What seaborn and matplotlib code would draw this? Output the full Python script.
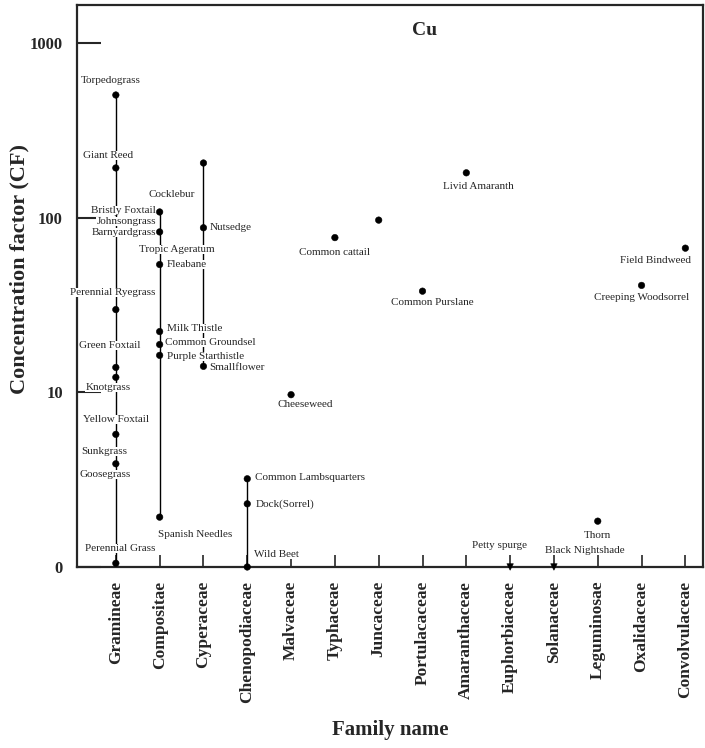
import numpy as np
import pandas as pd
import matplotlib
matplotlib.use("Agg")
import matplotlib.pyplot as plt
import seaborn as sns

families = ["Gramineae", "Compositae", "Cyperaceae", "Chenopodiaceae", "Malvaceae",
            "Typhaceae", "Juncaceae", "Portulacaceae", "Amaranthaceae", "Euphorbiaceae",
            "Solanaceae", "Leguminosae", "Oxalidaceae", "Convolvulaceae"]

species = ["Torpedograss", "Giant Reed", "Bristly Foxtail", "Johnsongrass", "Barnyardgrass",
           "Perennial Ryegrass", "Green Foxtail", "Knotgrass", "Yellow Foxtail", "Sunkgrass",
           "Goosegrass", "Perennial Grass",
           "Cocklebur", "Tropic Ageratum", "Fleabane", "Milk Thistle", "Common Groundsel",
           "Purple Starthistle", "Spanish Needles",
           "", "Nutsedge", "Smallflower",
           "Common Lambsquarters", "Dock(Sorrel)", "Wild Beet",
           "Cheeseweed", "Common cattail", "", "Common Purslane", "Livid Amaranth",
           "Petty spurge", "Black Nightshade", "Thorn", "Creeping Woodsorrel", "Field Bindweed"]

species_family = (["Gramineae"] * 12 + ["Compositae"] * 7 + ["Cyperaceae"] * 3
                  + ["Chenopodiaceae"] * 3
                  + ["Malvaceae", "Typhaceae", "Juncaceae", "Portulacaceae", "Amaranthaceae",
                     "Euphorbiaceae", "Solanaceae", "Leguminosae", "Oxalidaceae", "Convolvulaceae"])

cf = [505, 193, 108, 95, 83, 29.8, 13.9, 12.2, 5.75, 3.9, 3.4, 1.05,
      108, 83, 54, 22.3, 18.8, 16.3, 1.93,
      206, 87.7, 14.1,
      3.2, 2.3, 1.0,
      9.7, 77, 97, 38, 181,
      1.0, 1.0, 1.83, 41, 67]

# label offsets from each point, in pixels (dx, dy, alignment)
label_dx = [-5, -8, 40, 40, 40, -3, -6, -8, 0, -12, -11, 4,
            12, 17, 7, 7, 5, 7, 35,
            0, 6, 6,
            8, 8, 7,
            14, 0, 0, 10, 12,
            -11, 31, 0, 0, -30]
label_dy = [15, 12, 1, 0, -1, 17, 22, -10, 15, 12, 0, 15,
            17, -18, 0, 3, 2, -1, -17,
            0, 0, -1,
            1, 0, 12,
            -10, -15, 0, -11, -14,
            21, 16, -14, -12, -12]
label_ha = (["center"] * 2 + ["right"] * 3 + ["center"] * 7
            + ["center", "center", "left", "left", "left", "left", "center"]
            + ["left"] * 3 + ["left"] * 3 + ["center"] * 10)

markers = ["o"] * 30 + ["v", "v"] + ["o"] * 3

df = pd.DataFrame({"species": species, "family": species_family, "cf": cf, "mk": markers})
df["x"] = df["family"].map({f: i for i, f in enumerate(families)})

sns.set_style("ticks")
plt.rcParams["font.family"] = ["Liberation Serif", "DejaVu Serif"]

fig = plt.figure(figsize=(7.05, 7.48), dpi=100)
ax = fig.add_axes([0.109, 0.242, 0.888, 0.751])

# vertical range lines for each family
rng = df.groupby("x")["cf"].agg(["min", "max"])
rng = rng[rng["min"] < rng["max"]]
ax.vlines(rng.index, rng["min"], rng["max"], color="black", lw=1.0, zorder=1)

sns.scatterplot(data=df, x="x", y="cf", style="mk", markers={"o": "o", "v": "v"},
                color="black", s=22, edgecolor="black", legend=False, ax=ax,
                zorder=3, clip_on=False)

for i, r in df.iterrows():
    if not r["species"]:
        continue
    ax.annotate(r["species"], (r["x"], r["cf"]), xytext=(label_dx[i], label_dy[i]),
                textcoords="offset pixels", ha=label_ha[i], va="center", fontsize=8,
                zorder=4, annotation_clip=False,
                bbox=dict(boxstyle="square,pad=0.0", fc="white", ec="none"))

ax.set_yscale("log")
ax.set_ylim(1.0, 1650)
ax.set_xlim(-0.89, 13.4)
ax.set_yticks([1, 10, 100, 1000])
ax.set_yticklabels(["0", "10", "100", "1000"], fontsize=12, fontweight="bold")
ax.yaxis.set_minor_locator(matplotlib.ticker.NullLocator())
ax.set_xticks(range(len(families)))
ax.set_xticklabels(families, rotation=90, fontsize=12.5, fontweight="bold")
ax.tick_params(axis="y", direction="in", length=17, width=1.5, pad=10)
ax.tick_params(axis="x", direction="in", length=9, width=1.2, pad=10)

for s in ax.spines.values():
    s.set_linewidth(1.6)

ax.set_xlabel("Family name", fontsize=15, fontweight="bold", labelpad=12)
ax.set_ylabel("Concentration factor (CF)", fontsize=16, fontweight="bold")
ax.yaxis.set_label_coords(-0.075, 0.53)
ax.text(0.556, 0.955, "Cu", transform=ax.transAxes, ha="center", va="center",
        fontsize=14, fontweight="bold")

fig.savefig("out.png", dpi=100)
